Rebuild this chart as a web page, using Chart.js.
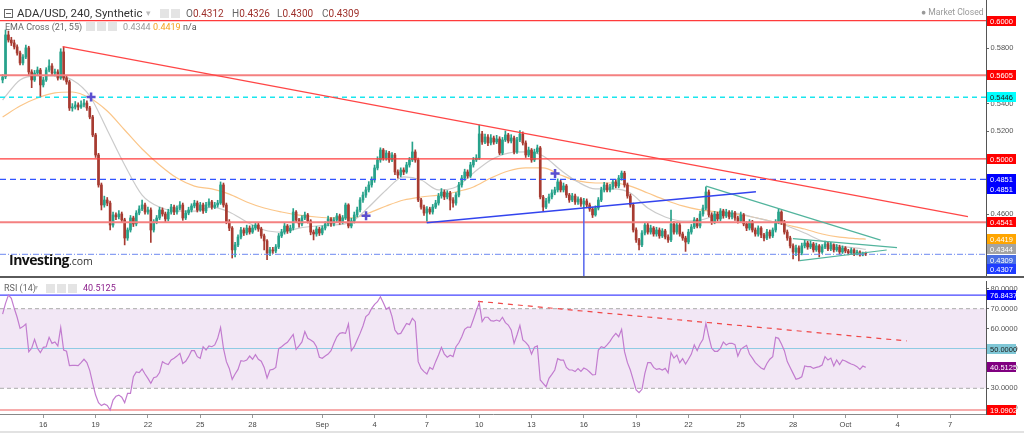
<!DOCTYPE html>
<html>
<head>
<meta charset="utf-8">
<title>ADA/USD, 240</title>
<script src="https://cdn.jsdelivr.net/npm/chart.js@4.4.1/dist/chart.umd.min.js"></script>
<style>
  body { margin: 0; width: 1024px; height: 433px; overflow: hidden; position: relative; background: #fff; font-family: Roboto, sans-serif; }
  canvas { position: absolute; left: 0; }
  #priceChart { top: 0; }
  #rsiChart { top: 277px; }
  .sep { position: absolute; left: 0; top: 276px; width: 1024px; height: 2px; background: #5a5a5a; }
  .footer { position: absolute; left: 0; top: 431px; width: 1024px; height: 2px; background: #e2e2e2; }
  .t { position: absolute; white-space: nowrap; line-height: 1; }
  .ico { position: absolute; width: 9px; height: 9px; background: #e4e4e4; }
  .boxicon { position: absolute; width: 7px; height: 7px; border: 1px solid #666; }
  .boxicon::after { content: ''; position: absolute; left: 1px; top: 3px; width: 5px; height: 1px; background: #666; }
</style>
</head>
<body>
<canvas id="priceChart" width="1024" height="277"></canvas>
<canvas id="rsiChart" width="1024" height="156"></canvas>
<div class="sep"></div>
<div class="footer"></div>

<div class="boxicon" style="left:4px;top:9px"></div>
<span class="t" style="left:17px;top:8px;font-size:11.5px;color:#333">ADA/USD, 240, Synthetic</span>
<span class="t" style="left:146px;top:9px;font-size:9px;color:#bbb">&#9662;</span>
<span class="ico" style="left:160px;top:9px"></span>
<span class="ico" style="left:171px;top:9px"></span>
<span class="t" style="left:186px;top:8.5px;font-size:10px;color:#666">O<span style="color:#9e302b">0.4312</span></span>
<span class="t" style="left:232px;top:8.5px;font-size:10px;color:#666">H<span style="color:#9e302b">0.4326</span></span>
<span class="t" style="left:277px;top:8.5px;font-size:10px;color:#666">L<span style="color:#9e302b">0.4300</span></span>
<span class="t" style="left:322px;top:8.5px;font-size:10px;color:#666">C<span style="color:#9e302b">0.4309</span></span>
<span class="t" style="left:921px;top:8px;font-size:8.6px;color:#999">&#9679; Market Closed</span>

<span class="t" style="left:5px;top:22.5px;font-size:9px;color:#666">EMA Cross (21, 55)</span>
<span class="t" style="left:75px;top:22.5px;font-size:8px;color:#bbb">&#9662;</span>
<span class="ico" style="left:86px;top:22px"></span>
<span class="ico" style="left:97px;top:22px"></span>
<span class="ico" style="left:108px;top:22px"></span>
<span class="t" style="left:123px;top:22.5px;font-size:9px;color:#999">0.4344</span>
<span class="t" style="left:153px;top:22.5px;font-size:9px;color:#f5a31f">0.4419</span>
<span class="t" style="left:183px;top:22.5px;font-size:9px;color:#555">n/a</span>

<span class="t" style="left:9px;top:253px;font-family:'Open Sans';font-weight:bold;font-size:14px;color:#111;letter-spacing:-0.5px">Investing<span style="font-weight:normal;font-size:10.5px;color:#333;letter-spacing:0">.com</span></span>

<span class="t" style="left:4px;top:283.5px;font-size:9px;color:#666">RSI (14)</span>
<span class="t" style="left:34px;top:283.5px;font-size:8px;color:#bbb">&#9662;</span>
<span class="ico" style="left:46px;top:283.5px"></span>
<span class="ico" style="left:57px;top:283.5px"></span>
<span class="ico" style="left:68px;top:283.5px"></span>
<span class="t" style="left:83px;top:283.5px;font-size:9px;color:#8b1f8b">40.5125</span>

<script>
// ---- values (4h candles, Aug 13 16:00 -> Oct 2 04:00) ----
const firstOpen = 0.5571;
const closes = [
  0.5593,0.5897,0.5860,0.5839,0.5810,0.5766,0.5694,0.5737,0.5803,0.5629,
  0.5571,0.5621,0.5643,0.5535,0.5571,0.5643,0.5672,0.5621,0.5629,0.5585,
  0.5774,0.5585,0.5557,0.5368,0.5375,0.5390,0.5375,0.5390,0.5404,0.5368,
  0.5303,0.5173,0.5028,0.4811,0.4666,0.4702,0.4680,0.4521,0.4594,0.4580,
  0.4601,0.4558,0.4427,0.4485,0.4572,0.4529,0.4608,0.4637,0.4666,0.4615,
  0.4630,0.4485,0.4543,0.4572,0.4630,0.4601,0.4565,0.4615,0.4651,0.4615,
  0.4644,0.4666,0.4572,0.4608,0.4630,0.4659,0.4680,0.4630,0.4666,0.4623,
  0.4666,0.4688,0.4651,0.4666,0.4680,0.4811,0.4666,0.4543,0.4499,0.4341,
  0.4377,0.4434,0.4485,0.4463,0.4499,0.4470,0.4499,0.4521,0.4492,0.4442,
  0.4406,0.4318,0.4341,0.4333,0.4362,0.4442,0.4470,0.4514,0.4478,0.4499,
  0.4615,0.4558,0.4529,0.4572,0.4594,0.4550,0.4470,0.4456,0.4492,0.4463,
  0.4499,0.4529,0.4565,0.4529,0.4558,0.4587,0.4543,0.4572,0.4666,0.4514,
  0.4550,0.4594,0.4630,0.4702,0.4738,0.4775,0.4811,0.4847,0.4934,0.4992,
  0.5064,0.5006,0.5042,0.4992,0.5028,0.4905,0.4883,0.4919,0.4905,0.4956,
  0.4992,0.5050,0.4992,0.4702,0.4651,0.4608,0.4637,0.4615,0.4651,0.4680,
  0.4731,0.4760,0.4724,0.4753,0.4702,0.4680,0.4738,0.4811,0.4861,0.4905,
  0.4876,0.4956,0.4992,0.5006,0.5180,0.5122,0.5158,0.5115,0.5151,0.5122,
  0.5144,0.5042,0.5137,0.5173,0.5129,0.5151,0.5050,0.5137,0.5180,0.5115,
  0.5028,0.5064,0.4992,0.5050,0.5079,0.4724,0.4651,0.4695,0.4724,0.4753,
  0.4775,0.4833,0.4775,0.4804,0.4738,0.4702,0.4731,0.4688,0.4709,0.4673,
  0.4695,0.4666,0.4637,0.4594,0.4644,0.4702,0.4775,0.4811,0.4775,0.4796,
  0.4833,0.4804,0.4861,0.4897,0.4811,0.4731,0.4666,0.4485,0.4413,0.4377,
  0.4463,0.4521,0.4470,0.4499,0.4456,0.4485,0.4442,0.4478,0.4434,0.4413,
  0.4529,0.4470,0.4521,0.4456,0.4427,0.4398,0.4470,0.4507,0.4558,0.4514,
  0.4601,0.4644,0.4760,0.4594,0.4543,0.4601,0.4565,0.4623,0.4587,0.4615,
  0.4580,0.4608,0.4572,0.4550,0.4594,0.4529,0.4499,0.4543,0.4485,0.4456,
  0.4499,0.4449,0.4427,0.4470,0.4442,0.4485,0.4543,0.4615,0.4543,0.4470,
  0.4427,0.4370,0.4326,0.4355,0.4319,0.4370,0.4391,0.4362,0.4384,0.4341,
  0.4370,0.4326,0.4362,0.4384,0.4348,0.4377,0.4341,0.4362,0.4326,0.4355,
  0.4333,0.4319,0.4341,0.4312,0.4326,0.4304,0.4312,0.4309
];
const highs = [
  0.5610,0.5933,0.5925,0.5880,0.5860,0.5825,0.5780,0.5755,0.5824,0.5815,
  0.5645,0.5640,0.5665,0.5655,0.5590,0.5660,0.5716,0.5690,0.5650,0.5645,
  0.5797,0.5810,0.5600,0.5570,0.5400,0.5415,0.5405,0.5420,0.5430,0.5420,
  0.5380,0.5315,0.5185,0.5040,0.4825,0.4730,0.4720,0.4695,0.4615,0.4610,
  0.4625,0.4615,0.4570,0.4500,0.4590,0.4585,0.4625,0.4660,0.4702,0.4680,
  0.4650,0.4645,0.4560,0.4590,0.4650,0.4645,0.4615,0.4635,0.4670,0.4665,
  0.4660,0.4690,0.4680,0.4625,0.4650,0.4675,0.4700,0.4695,0.4685,0.4680,
  0.4685,0.4710,0.4700,0.4685,0.4700,0.4833,0.4825,0.4680,0.4560,0.4510,
  0.4395,0.4450,0.4505,0.4500,0.4520,0.4515,0.4520,0.4540,0.4535,0.4505,
  0.4455,0.4415,0.4360,0.4360,0.4380,0.4460,0.4490,0.4535,0.4525,0.4520,
  0.4640,0.4625,0.4570,0.4590,0.4615,0.4605,0.4560,0.4485,0.4510,0.4505,
  0.4515,0.4545,0.4585,0.4575,0.4575,0.4605,0.4600,0.4590,0.4680,0.4675,
  0.4570,0.4615,0.4650,0.4720,0.4760,0.4795,0.4835,0.4870,0.4955,0.5015,
  0.5080,0.5075,0.5060,0.5055,0.5045,0.5040,0.4920,0.4935,0.4935,0.4975,
  0.5010,0.5122,0.5065,0.5005,0.4715,0.4665,0.4655,0.4650,0.4670,0.4700,
  0.4750,0.4785,0.4775,0.4770,0.4765,0.4720,0.4755,0.4830,0.4880,0.4925,
  0.4920,0.4975,0.5010,0.5030,0.5245,0.5200,0.5180,0.5175,0.5175,0.5165,
  0.5170,0.5160,0.5155,0.5202,0.5185,0.5175,0.5165,0.5155,0.5205,0.5195,
  0.5130,0.5085,0.5075,0.5070,0.5100,0.5090,0.4735,0.4715,0.4745,0.4775,
  0.4795,0.4855,0.4845,0.4825,0.4815,0.4750,0.4750,0.4745,0.4725,0.4720,
  0.4715,0.4710,0.4680,0.4650,0.4660,0.4720,0.4795,0.4830,0.4825,0.4815,
  0.4850,0.4850,0.4880,0.4912,0.4910,0.4825,0.4745,0.4680,0.4500,0.4425,
  0.4480,0.4540,0.4535,0.4520,0.4510,0.4505,0.4500,0.4495,0.4490,0.4450,
  0.4630,0.4545,0.4540,0.4535,0.4470,0.4440,0.4490,0.4525,0.4575,0.4570,
  0.4620,0.4665,0.4797,0.4775,0.4610,0.4620,0.4615,0.4640,0.4635,0.4635,
  0.4625,0.4625,0.4620,0.4585,0.4615,0.4605,0.4545,0.4560,0.4555,0.4500,
  0.4515,0.4510,0.4460,0.4490,0.4485,0.4500,0.4560,0.4637,0.4625,0.4555,
  0.4485,0.4440,0.4385,0.4375,0.4370,0.4390,0.4410,0.4405,0.4405,0.4395,
  0.4390,0.4380,0.4380,0.4405,0.4395,0.4395,0.4385,0.4380,0.4375,0.4370,
  0.4365,0.4345,0.4355,0.4350,0.4340,0.4335,0.4325,0.4326
];
const lows = [
  0.5550,0.5580,0.5845,0.5820,0.5795,0.5750,0.5680,0.5680,0.5725,0.5610,
  0.5515,0.5560,0.5605,0.5448,0.5520,0.5560,0.5630,0.5605,0.5600,0.5570,
  0.5575,0.5570,0.5540,0.5350,0.5345,0.5360,0.5355,0.5365,0.5375,0.5350,
  0.5290,0.5160,0.5010,0.4795,0.4630,0.4650,0.4660,0.4485,0.4505,0.4560,
  0.4565,0.4540,0.4377,0.4410,0.4470,0.4510,0.4515,0.4595,0.4625,0.4600,
  0.4600,0.4395,0.4470,0.4530,0.4560,0.4585,0.4545,0.4550,0.4600,0.4595,
  0.4600,0.4630,0.4555,0.4560,0.4595,0.4615,0.4645,0.4615,0.4620,0.4605,
  0.4610,0.4650,0.4635,0.4640,0.4650,0.4670,0.4650,0.4530,0.4480,0.4282,
  0.4290,0.4365,0.4420,0.4445,0.4450,0.4455,0.4460,0.4485,0.4475,0.4425,
  0.4340,0.4270,0.4300,0.4315,0.4320,0.4350,0.4430,0.4455,0.4460,0.4465,
  0.4485,0.4540,0.4505,0.4515,0.4560,0.4535,0.4450,0.4413,0.4440,0.4445,
  0.4450,0.4485,0.4515,0.4510,0.4515,0.4545,0.4525,0.4530,0.4560,0.4500,
  0.4500,0.4535,0.4580,0.4615,0.4685,0.4720,0.4760,0.4795,0.4830,0.4920,
  0.4975,0.4990,0.4990,0.4975,0.4980,0.4885,0.4860,0.4870,0.4885,0.4895,
  0.4940,0.4980,0.4975,0.4690,0.4635,0.4590,0.4543,0.4600,0.4600,0.4640,
  0.4665,0.4715,0.4705,0.4710,0.4630,0.4650,0.4665,0.4725,0.4795,0.4845,
  0.4860,0.4865,0.4940,0.4980,0.4995,0.5105,0.5110,0.5095,0.5100,0.5105,
  0.5110,0.5030,0.5030,0.5125,0.5115,0.5115,0.5035,0.5040,0.5125,0.5100,
  0.5010,0.5015,0.4975,0.4980,0.5040,0.4710,0.4625,0.4640,0.4680,0.4710,
  0.4740,0.4760,0.4760,0.4760,0.4720,0.4685,0.4690,0.4670,0.4670,0.4655,
  0.4645,0.4650,0.4620,0.4575,0.4585,0.4630,0.4690,0.4760,0.4760,0.4760,
  0.4780,0.4790,0.4790,0.4845,0.4795,0.4715,0.4650,0.4470,0.4395,0.4340,
  0.4365,0.4450,0.4455,0.4455,0.4440,0.4440,0.4425,0.4430,0.4420,0.4395,
  0.4400,0.4455,0.4455,0.4440,0.4410,0.4330,0.4385,0.4455,0.4495,0.4500,
  0.4500,0.4585,0.4630,0.4580,0.4525,0.4530,0.4550,0.4550,0.4570,0.4575,
  0.4565,0.4565,0.4555,0.4535,0.4540,0.4515,0.4480,0.4485,0.4470,0.4440,
  0.4440,0.4430,0.4405,0.4415,0.4425,0.4430,0.4470,0.4530,0.4525,0.4455,
  0.4410,0.4355,0.4275,0.4300,0.4262,0.4305,0.4355,0.4345,0.4350,0.4325,
  0.4330,0.4290,0.4315,0.4350,0.4335,0.4335,0.4325,0.4330,0.4310,0.4315,
  0.4320,0.4305,0.4310,0.4300,0.4305,0.4295,0.4298,0.4300
];
// EMA lines, read once per day (every 6th candle, plus the last one)
const ema21 = [
  0.5426,0.5571,0.5600,0.5600,0.5571,0.5455,0.5209,0.4956,0.4738,0.4651,
  0.4622,0.4622,0.4651,0.4615,0.4543,0.4485,0.4470,0.4499,0.4514,0.4521,
  0.4543,0.4651,0.4775,0.4869,0.4847,0.4775,0.4796,0.4898,0.4992,0.5042,
  0.5050,0.5021,0.4919,0.4832,0.4782,0.4782,0.4753,0.4644,0.4579,0.4550,
  0.4557,0.4593,0.4608,0.4579,0.4550,0.4514,0.4463,0.4405,0.4369,0.4354,
  0.4344
];
const ema55 = [
  0.5303,0.5383,0.5440,0.5477,0.5484,0.5440,0.5346,0.5209,0.5071,0.4956,
  0.4861,0.4803,0.4782,0.4745,0.4688,0.4644,0.4615,0.4593,0.4579,0.4572,
  0.4572,0.4608,0.4659,0.4702,0.4724,0.4738,0.4760,0.4796,0.4861,0.4912,
  0.4934,0.4934,0.4883,0.4840,0.4825,0.4825,0.4803,0.4753,0.4702,0.4659,
  0.4630,0.4615,0.4601,0.4579,0.4550,0.4521,0.4492,0.4456,0.4434,0.4423,
  0.4419
];
const rsi = [
  67.3,72.7,76.84,75.2,70.2,65.7,60.1,61.0,62.3,48.4,
  50.1,54.6,50.1,47.9,50.6,50.9,55.6,52.6,53.3,51.3,
  60.6,49.2,48.6,41.4,41.5,41.5,41.4,42.9,44.6,42.9,
  38.9,32.5,26.6,22.8,21.3,22.1,21.4,19.09,24.1,26.0,
  26.6,25.5,22.8,27.5,27.5,35.8,38.2,37.9,39.7,37.2,
  35.0,32.5,35.3,35.8,37.9,43.4,42.5,41.9,44.2,45.1,
  46.2,47.6,42.5,43.6,45.9,48.9,48.9,45.9,45.1,50.9,
  49.2,51.3,50.9,51.8,55.1,60.6,50.1,43.4,40.0,34.5,
  37.2,39.5,43.9,43.6,44.2,46.2,44.6,46.9,44.6,43.6,
  40.5,35.2,39.2,39.5,40.5,49.9,50.9,52.1,53.1,55.1,
  57.1,49.6,51.3,53.3,58.5,55.1,54.3,53.3,50.9,45.6,
  45.1,46.2,47.2,48.9,52.6,55.9,57.6,58.0,57.6,62.3,
  48.9,50.9,54.3,57.6,61.3,66.0,67.3,70.2,72.2,73.5,
  76.0,73.0,69.7,70.7,66.0,59.3,57.3,57.6,60.1,62.6,
  62.0,65.2,63.5,43.4,40.0,38.4,37.2,40.5,39.5,43.4,
  46.7,50.6,47.2,45.6,46.6,45.9,50.9,52.9,55.9,59.6,
  60.8,60.6,64.7,69.0,73.0,63.5,65.7,65.7,64.0,63.8,
  64.3,63.7,65.7,63.0,61.8,59.3,52.6,56.8,61.6,54.3,
  53.1,51.3,47.2,50.6,51.3,34.2,32.5,30.8,35.0,37.0,
  39.2,44.9,44.2,44.2,40.5,39.2,39.2,38.4,39.9,38.5,
  40.2,39.5,38.2,36.7,36.9,49.2,50.9,50.3,51.8,53.6,
  55.9,57.6,55.9,59.6,48.4,42.9,39.2,34.2,29.2,27.8,
  29.5,37.5,42.9,42.9,40.5,39.5,39.9,39.2,40.0,37.8,
  47.9,45.2,46.7,42.9,44.9,42.2,44.6,47.2,51.8,48.9,
  52.3,54.6,62.6,55.9,50.1,48.6,48.6,50.1,53.3,51.8,
  52.6,52.6,51.9,46.2,49.6,50.6,51.6,47.2,45.2,42.9,
  41.5,40.2,39.5,42.5,44.6,45.9,55.6,55.1,52.3,48.9,
  43.4,40.5,37.5,34.5,35.0,35.8,41.2,40.9,40.9,40.0,
  40.5,40.9,41.7,45.9,44.2,45.2,41.2,44.2,41.9,44.2,
  43.7,42.9,42.2,41.7,40.9,39.5,41.2,40.5125
];

// axis ticks (x in days from Aug 16)
const priceTicks = [0.58, 0.54, 0.52, 0.46];
const rsiTicks = [80, 70, 60, 50, 40, 30, 20];
const xTickDays = [0, 3, 6, 9, 12, 16, 19, 22, 25, 28, 31, 34, 37, 40, 43, 46, 49, 52];
const xTickLabels = ['16', '19', '22', '25', '28', 'Sep', '4', '7', '10', '13', '16', '19', '22', '25', '28', 'Oct', '4', '7'];

// horizontal levels and drawn lines (days, price)
const levelValues = [0.6000, 0.5605, 0.5446, 0.5000, 0.4851, 0.4541, 0.4309];
const rsiLevels = [76.8437, 50, 19.0902];
const rsiBand = [30, 70];
const trendDown = [[1.11, 0.5812], [53.03, 0.4581]];
const trendUp = [[21.99, 0.4538], [40.87, 0.4762]];
const sep16Line = [[31.0, 0.4643], [31.0, 0.4145]];
const wedgeTop = [[38.01, 0.4803], [48.02, 0.4412]];
const flagTop = [[42.99, 0.4422], [48.96, 0.4357]];
const flagBottom = [[43.39, 0.4263], [48.37, 0.4340]];
const emaCrosses = [[2.74, 0.5448], [18.51, 0.4588], [29.35, 0.4894]];
const rsiTrend = [[24.93, 73.7], [49.52, 53.8]];

// ---- layout ----
const firstBarDay = -14 / 6;
const barDay = (i) => firstBarDay + i / 6;
const xMin = -2.483, xMax = 54.064;
const AXIS_FONT = { family: "'Liberation Sans', Arial, sans-serif", size: 7.5 };
const UP = '#27a28b', DOWN = '#a73b31';

Chart.defaults.font.family = AXIS_FONT.family;

const pts = (arr) => arr.map(([x, y]) => ({ x, y }));
const line = (data, color, width, dash, order) => ({
  type: 'line', data, borderColor: color, borderWidth: width, borderDash: dash || [],
  pointRadius: 0, fill: false, tension: 0, order: order
});
const hline = (v, color, width, dash, order) =>
  line([{ x: xMin, y: v }, { x: xMax, y: v }], color, width, dash, order);

const bodies = [], wicks = [], colors = [];
closes.forEach((c, i) => {
  const o = i === 0 ? firstOpen : closes[i - 1];
  bodies.push({ x: barDay(i), y: [o, c] });
  wicks.push({ x: barDay(i), y: [lows[i], highs[i]] });
  colors.push(c >= o ? UP : DOWN);
});
const emaPts = (arr) => arr.map((v, k) => ({ x: barDay(Math.min(k * 6, closes.length - 1)), y: v }));

const tagPlugin = (tags) => ({
  id: 'tags',
  afterDraw(chart) {
    const { ctx } = chart;
    const ys = chart.scales.y;
    ctx.save();
    ctx.font = '7.5px ' + AXIS_FONT.family;
    ctx.textBaseline = 'middle';
    tags.forEach((t) => {
      const py = Math.round(ys.getPixelForValue(t.value) + (t.shift || 0));
      ctx.fillStyle = t.bg;
      ctx.fillRect(987, py - 5, 29, 10);
      ctx.fillStyle = t.fg;
      ctx.fillText(t.text, 990, py + 0.5);
    });
    ctx.restore();
  }
});

const priceTags = [
  { value: 0.6000, bg: '#ff0000', fg: '#fff' },
  { value: 0.5605, bg: '#ff0000', fg: '#fff' },
  { value: 0.5446, bg: '#00ffff', fg: '#222' },
  { value: 0.5000, bg: '#ff0000', fg: '#fff' },
  { value: 0.4851, bg: '#0000ff', fg: '#fff' },
  { value: 0.4851, bg: '#0000ff', fg: '#fff', shift: 10 },
  { value: 0.4541, bg: '#ff0000', fg: '#fff' },
  { value: ema55[ema55.length - 1], bg: '#ffa500', fg: '#fff' },
  { value: ema21[ema21.length - 1], bg: '#a3a3a3', fg: '#fff' },
  { value: 0.4309, bg: '#4a6fe3', fg: '#fff', shift: 6 },
  { value: 0.4307, bg: '#1f3cff', fg: '#fff', shift: 14 }
].map((t) => ({ ...t, text: t.value.toFixed(4) }));

const rsiTags = [
  { value: rsiLevels[0], bg: '#0000ff', fg: '#fff' },
  { value: rsiLevels[1], bg: '#7fc7d6', fg: '#222' },
  { value: rsi[rsi.length - 1], bg: '#800080', fg: '#fff' },
  { value: rsiLevels[2], bg: '#ff0000', fg: '#fff' }
].map((t) => ({ ...t, text: t.value.toFixed(4) }));

const levelStyle = [
  ['#ff3b3b', 1.3, []],
  ['#f48080', 2.2, []],
  ['#19e6ee', 1.3, [5, 4]],
  ['#ff3b3b', 1.3, []],
  ['#3355ff', 1.3, [6, 4]],
  ['#f48080', 2.2, []],
  ['#6d89f0', 1, [6, 2, 1, 2]]
];

new Chart(document.getElementById('priceChart'), {
  type: 'bar',
  data: {
    datasets: [
      ...levelValues.map((v, k) => hline(v, levelStyle[k][0], levelStyle[k][1], levelStyle[k][2], 2)),
      line(pts(trendDown), '#ff4646', 1.3, [], 1),
      line(pts(trendUp), '#3344ee', 1.5, [], 1),
      line(pts(sep16Line), '#5566ee', 1.5, [], 1),
      line(pts(wedgeTop), '#52b49d', 1.2, [], 1),
      line(pts(flagTop), '#52b49d', 1.2, [], 1),
      line(pts(flagBottom), '#52b49d', 1.2, [], 1),
      {
        type: 'line', data: pts(emaCrosses), showLine: false, pointStyle: 'cross',
        pointRadius: 4.5, pointBorderWidth: 2.5, borderColor: '#5b4fd0', order: 0
      },
      { type: 'line', data: emaPts(ema21), borderColor: '#cbcbcb', borderWidth: 1.2, pointRadius: 0, cubicInterpolationMode: 'monotone', order: 9 },
      { type: 'line', data: emaPts(ema55), borderColor: '#fbc689', borderWidth: 1.2, pointRadius: 0, cubicInterpolationMode: 'monotone', order: 9 },
      { type: 'bar', data: wicks, backgroundColor: colors, barThickness: 1, grouped: false, order: 6 },
      { type: 'bar', data: bodies, backgroundColor: colors, barThickness: 2, grouped: false, minBarLength: 1, order: 5 }
    ]
  },
  options: {
    responsive: false, animation: false, events: [],
    layout: { padding: 0, autoPadding: false },
    plugins: { legend: { display: false }, tooltip: { enabled: false } },
    scales: {
      x: { type: 'linear', min: xMin, max: xMax, offset: false, display: false },
      y: {
        type: 'linear', position: 'right', min: 0.41447, max: 0.61498,
        afterBuildTicks: (s) => { s.ticks = priceTicks.map((v) => ({ value: v })); },
        afterFit: (s) => { s.width = 38; s.paddingTop = 0; s.paddingBottom = 0; },
        ticks: { callback: (v) => v.toFixed(4), font: AXIS_FONT, color: '#555', padding: 1.5 },
        grid: { drawOnChartArea: false, tickLength: 3, color: '#666' },
        border: { color: '#555' }
      }
    }
  },
  plugins: [tagPlugin(priceTags)]
});

new Chart(document.getElementById('rsiChart'), {
  type: 'line',
  data: {
    datasets: [
      {
        data: [{ x: xMin, y: rsiBand[1] }, { x: xMax, y: rsiBand[1] }], borderColor: '#aaa', borderWidth: 1,
        borderDash: [4, 3], pointRadius: 0, fill: { value: rsiBand[0] }, backgroundColor: 'rgba(150, 60, 170, 0.12)', order: 9
      },
      hline(rsiBand[0], '#aaa', 1, [4, 3], 8),
      hline(rsiLevels[0], '#4444ff', 1.2, [], 7),
      hline(rsiLevels[1], '#8fcbe3', 1.2, [], 7),
      hline(rsiLevels[2], '#f05a5a', 1.2, [], 7),
      line(pts(rsiTrend), '#f04848', 1.2, [5, 5], 2),
      {
        data: rsi.map((v, i) => ({ x: barDay(i), y: v })), borderColor: '#c27ccf', borderWidth: 1.2,
        pointRadius: 0, tension: 0, fill: false, order: 1
      }
    ]
  },
  options: {
    responsive: false, animation: false, events: [],
    layout: { padding: { top: 4 }, autoPadding: false },
    plugins: { legend: { display: false }, tooltip: { enabled: false } },
    scales: {
      x: {
        type: 'linear', min: xMin, max: xMax, offset: false,
        afterBuildTicks: (s) => { s.ticks = xTickDays.map((v) => ({ value: v })); },
        afterFit: (s) => { s.height = 19; s.paddingLeft = 0; s.paddingRight = 0; },
        ticks: { autoSkip: false, maxRotation: 0, callback: (v, i) => xTickLabels[i], font: AXIS_FONT, color: '#444', padding: 2.5 },
        grid: { drawOnChartArea: false, tickLength: 4, color: '#999' },
        border: { color: '#888' }
      },
      y: {
        type: 'linear', position: 'right', min: 17.09, max: 83.92,
        afterBuildTicks: (s) => { s.ticks = rsiTicks.map((v) => ({ value: v })); },
        afterFit: (s) => { s.width = 38; s.paddingTop = 0; s.paddingBottom = 0; },
        ticks: { callback: (v) => v.toFixed(4), font: AXIS_FONT, color: '#555', padding: 1.5 },
        grid: { drawOnChartArea: false, tickLength: 3, color: '#666' },
        border: { color: '#555' }
      }
    }
  },
  plugins: [tagPlugin(rsiTags)]
});
</script>
</body>
</html>
